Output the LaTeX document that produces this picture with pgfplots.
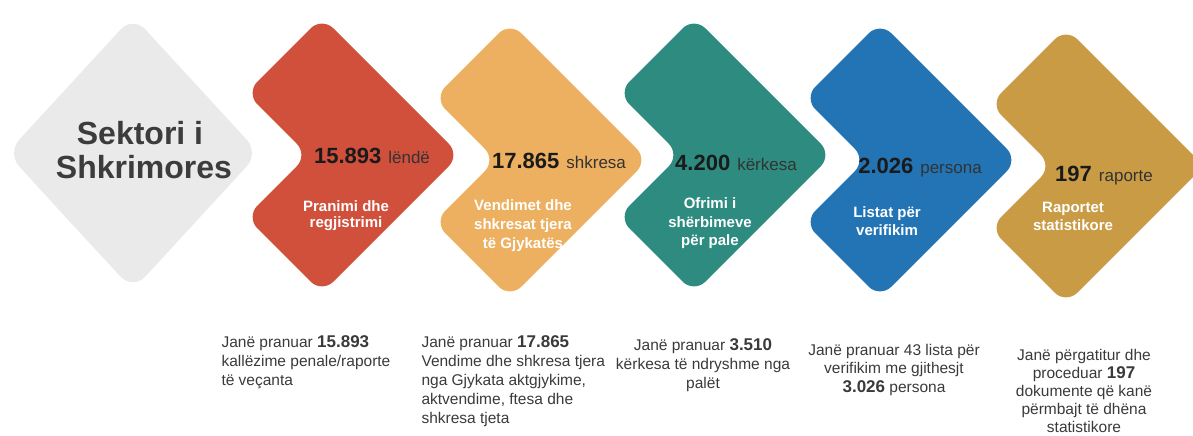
\documentclass[border=0pt]{standalone}
\usepackage{fontspec}
\setmainfont{Liberation Sans}
\usepackage{pgfplots}
\pgfplotsset{compat=1.18}
\definecolor{cgray}{HTML}{EAEAEA}
\definecolor{cred}{HTML}{D0503C}
\definecolor{corange}{HTML}{EDB060}
\definecolor{cteal}{HTML}{2E8B80}
\definecolor{cblue}{HTML}{2274B5}
\definecolor{cgold}{HTML}{C99B45}
\definecolor{numcol}{HTML}{1A1A1A}
\definecolor{unitcol}{HTML}{333333}
\definecolor{bodycol}{HTML}{3A3A3A}
\definecolor{titlecol}{HTML}{3C3C3C}
\newcommand{\fsz}[1]{\fontsize{#1bp}{#1bp}\selectfont}
\newcommand{\num}[2]{{\fsz{22}\bfseries\color{numcol}#1}\hspace{7bp}{\fsz{17}\color{unitcol}#2}}
\begin{document}
\begin{tikzpicture}
\useasboundingbox (0,0) rectangle (1193bp,436bp);
\begin{axis}[width=1193bp, height=436bp, scale only axis,
  xmin=0, xmax=1193, ymin=0, ymax=436, y dir=reverse,
  hide axis, clip=true]
% shapes
\addplot[fill=cgray, draw=none, rounded corners=18bp] coordinates {(70,222) (7,153) (133,16) (259,153) (133,290)} -- cycle;
\addplot[fill=cred, draw=none, rounded corners=16bp] coordinates {(284,255) (246,217) (308,155) (246,93) (322,17) (460,155) (322,293)} -- cycle;
\addplot[fill=corange, draw=none, rounded corners=16bp] coordinates {(472,260) (434,222) (496,160) (434,98) (510,22) (648,160) (510,298)} -- cycle;
\addplot[fill=cteal, draw=none, rounded corners=16bp] coordinates {(656,255) (618,217) (680,155) (618,93) (694,17) (832,155) (694,293)} -- cycle;
\addplot[fill=cblue, draw=none, rounded corners=16bp] coordinates {(842,260) (804,222) (866,160) (804,98) (880,22) (1018,160) (880,298)} -- cycle;
\addplot[fill=cgold, draw=none, rounded corners=16bp] coordinates {(1028,266) (990,228) (1052,166) (990,104) (1066,28) (1204,166) (1066,304)} -- cycle;
% title in gray diamond
\node[anchor=base, font=\fsz{32}\bfseries, text=titlecol] at (140,144) {Sektori i};
\node[anchor=base, font=\fsz{32}\bfseries, text=titlecol] at (144,178) {Shkrimores};
% numbers
\node[anchor=base] at (372,163) {\num{15.893}{lëndë}};
\node[anchor=base] at (559,168) {\num{17.865}{shkresa}};
\node[anchor=base] at (736,170) {\num{4.200}{kërkesa}};
\node[anchor=base] at (920,173) {\num{2.026}{persona}};
\node[anchor=base] at (1104,181) {\num{197}{raporte}};
% white labels
\tikzset{wl/.style={anchor=base, font=\fsz{15}\bfseries, text=white}}
\node[wl] at (346,211) {Pranimi dhe};
\node[wl] at (346,227) {regjistrimi};
\node[wl] at (523,210) {Vendimet dhe};
\node[wl] at (523,229) {shkresat tjera};
\node[wl] at (523,248) {të Gjykatës};
\node[wl] at (710,208) {Ofrimi i};
\node[wl] at (710,227) {shërbimeve};
\node[wl] at (710,245) {për pale};
\node[wl] at (887,217) {Listat për};
\node[wl] at (887,235) {verifikim};
\node[wl] at (1073,212) {Raportet};
\node[wl] at (1073,230) {statistikore};
% bottom descriptions
\tikzset{bl/.style={anchor=base west, font=\fsz{15.5}, text=bodycol},
         bc/.style={anchor=base, font=\fsz{15.5}, text=bodycol}}
\node[bl] at (218,347) {Janë pranuar {\fsz{17}\bfseries 15.893}};
\node[bl] at (218,366) {kallëzime penale/raporte};
\node[bl] at (218,385) {të veçanta};
\node[bl] at (418,347) {Janë pranuar {\fsz{17}\bfseries 17.865}};
\node[bl] at (418,366) {Vendime dhe shkresa tjera};
\node[bl] at (418,385) {nga Gjykata aktgjykime,};
\node[bl] at (418,404) {aktvendime, ftesa dhe};
\node[bl] at (418,423) {shkresa tjeta};
\node[bc] at (703,350) {Janë pranuar {\fsz{17}\bfseries 3.510}};
\node[bc] at (703,369) {kërkesa të ndryshme nga};
\node[bc] at (703,388) {palët};
\node[bc] at (894,355) {Janë pranuar 43 lista për};
\node[bc] at (894,373) {verifikim me gjithesjt};
\node[bc] at (894,392) {{\fsz{17}\bfseries 3.026} persona};
\node[bc] at (1084,360) {Janë përgatitur dhe};
\node[bc] at (1084,378) {proceduar {\fsz{17}\bfseries 197}};
\node[bc] at (1084,396) {dokumente që kanë};
\node[bc] at (1084,414) {përmbajt të dhëna};
\node[bc] at (1084,432) {statistikore};
\end{axis}
\end{tikzpicture}
\end{document}
